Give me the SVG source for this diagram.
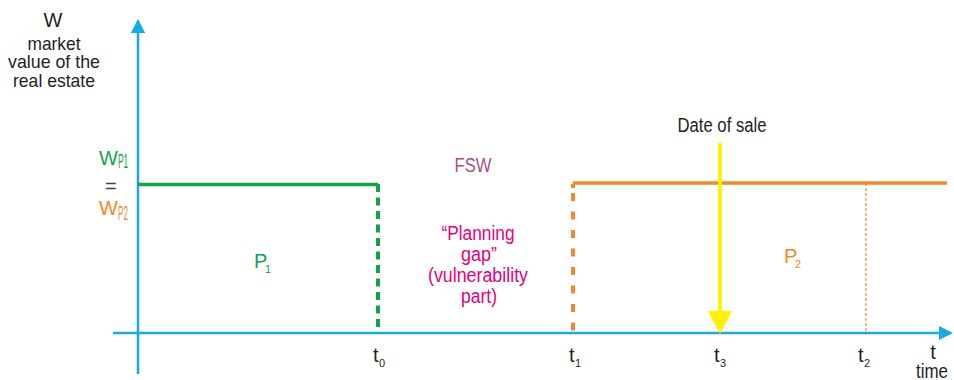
<svg xmlns="http://www.w3.org/2000/svg" width="954" height="380" viewBox="0 0 954 380">
<style>
text{font-family:"Liberation Sans",Arial,sans-serif;font-size:20px;}
.k{fill:#231f20;}
.g{fill:#13a24b;}
.o{fill:#f0892a;}
.m{fill:#e5007d;}
.c{text-anchor:middle;}
.sub{font-size:11px;}
.ax{font-size:19px;}
</style>
<defs>
<marker id="ab" markerWidth="16" markerHeight="18" refX="0" refY="0" orient="auto" markerUnits="userSpaceOnUse" viewBox="-2 -9 18 18">
<path d="M0,-8 L16,0 L0,8 Z" fill="#1aa9e1"/>
</marker>
</defs>
<g id="connectors">
<line x1="138" y1="374" x2="138" y2="33" stroke="#1aa9e1" stroke-width="2.5" marker-end="url(#ab)"/>
<line x1="113" y1="333" x2="939" y2="333" stroke="#1aa9e1" stroke-width="2.5" marker-end="url(#ab)"/>
<line x1="138" y1="184.5" x2="378" y2="184.5" stroke="#13a24b" stroke-width="3.5"/>
<line x1="378" y1="184" x2="378" y2="327" stroke="#13a24b" stroke-width="4" stroke-dasharray="8,5.5"/>
<line x1="573" y1="183" x2="947" y2="183" stroke="#f0892a" stroke-width="3.5"/>
<line x1="573" y1="184" x2="573" y2="188" stroke="#f0892a" stroke-width="4"/>
<line x1="573" y1="193" x2="573" y2="333" stroke="#f0892a" stroke-width="4" stroke-dasharray="8,10.5"/>
<line x1="866" y1="183" x2="866" y2="333" stroke="#f0892a" stroke-width="1.2" stroke-dasharray="3,2"/>
<line x1="720" y1="143" x2="720" y2="313" stroke="#fff200" stroke-width="4"/>
<path d="M708,311 L732,311 L720,334 Z" fill="#fff200"/>
</g>
<g id="axis-label">
<text class="k c" x="53" y="27">W</text>
<text class="k c ax" x="54" y="50" textLength="53" lengthAdjust="spacingAndGlyphs">market</text>
<text class="k c ax" x="54" y="68" textLength="92" lengthAdjust="spacingAndGlyphs">value of the</text>
<text class="k c ax" x="54" y="87" textLength="82" lengthAdjust="spacingAndGlyphs">real estate</text>
</g>
<g id="wp">
<text class="g" x="99" y="165" font-size="21px">W</text>
<text class="g" x="118" y="168" font-size="11px" textLength="10" lengthAdjust="spacingAndGlyphs">P1</text>
<text x="105" y="193" font-size="28px" fill="#444">=</text>
<text class="o" x="99" y="215" font-size="21px">W</text>
<text class="o" x="118" y="220" font-size="11px" textLength="10" lengthAdjust="spacingAndGlyphs">P2</text>
</g>
<g id="fsw"><text class="c" x="473" y="172" fill="#a6508e" textLength="37" lengthAdjust="spacingAndGlyphs">FSW</text></g>
<g id="gap">
<text class="m c" x="478" y="240" textLength="73" lengthAdjust="spacingAndGlyphs">“Planning</text>
<text class="m c" x="479" y="261" textLength="36" lengthAdjust="spacingAndGlyphs">gap”</text>
<text class="m c" x="478" y="282" textLength="100" lengthAdjust="spacingAndGlyphs">(vulnerability</text>
<text class="m c" x="479" y="303" textLength="36" lengthAdjust="spacingAndGlyphs">part)</text>
</g>
<g id="p1"><text class="g" x="254" y="268">P<tspan class="sub" x="265" dy="5">1</tspan></text></g>
<g id="p2"><text class="o" x="784" y="263">P<tspan class="sub" x="795" dy="5">2</tspan></text></g>
<g id="sale"><text class="k c" x="722" y="132" textLength="89" lengthAdjust="spacingAndGlyphs">Date of sale</text></g>
<g id="ticks">
<text class="k" x="373" y="362">t<tspan class="sub" x="379" dy="5">0</tspan></text>
<text class="k" x="569" y="362">t<tspan class="sub" x="575" dy="5">1</tspan></text>
<text class="k" x="714" y="362">t<tspan class="sub" x="720" dy="5">3</tspan></text>
<text class="k" x="858" y="362">t<tspan class="sub" x="864" dy="5">2</tspan></text>
<text class="k c" x="933" y="359">t</text>
<text class="k c" x="932" y="378" textLength="32" lengthAdjust="spacingAndGlyphs">time</text>
</g>
</svg>
